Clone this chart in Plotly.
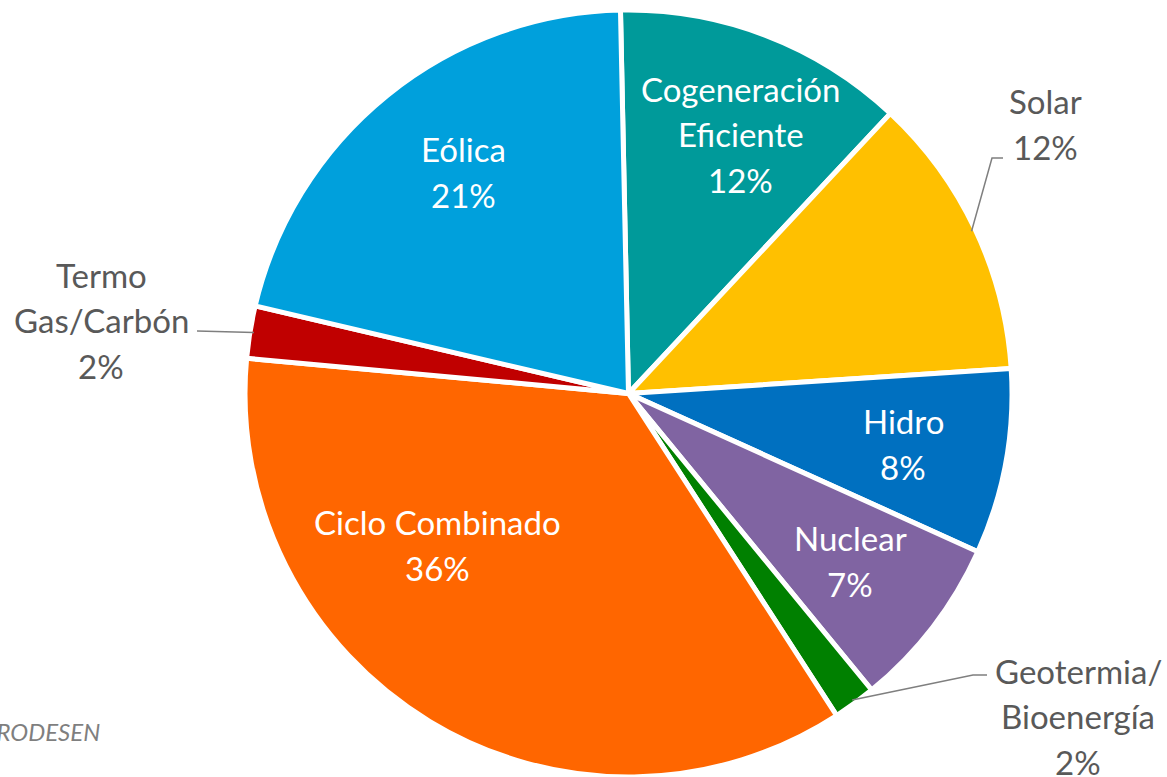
import math
import plotly.graph_objects as go

# ---------------- data ----------------
categories = ["Cogeneración Eficiente", "Solar", "Hidro", "Nuclear",
              "Geotermia/Bioenergía", "Ciclo Combinado", "Termo Gas/Carbón", "Eólica"]
label_lines = [["Cogeneración", "Eficiente"], ["Solar"], ["Hidro"], ["Nuclear"],
               ["Geotermia/", "Bioenergía"], ["Ciclo Combinado"], ["Termo", "Gas/Carbón"], ["Eólica"]]
shares = [12.3, 12.0, 7.8, 7.3, 1.8, 35.6, 2.2, 21.0]
source_note = "PRODESEN"

# ---------------- style / layout ----------------
colors = ["#009A9A", "#FFC000", "#0070C0", "#8064A2",
          "#008000", "#FF6600", "#C00000", "#00A0DC"]
W, H = 1167, 777
MT, MB = 10, 0
PH = H - MT - MB
R = PH / 2.0
CX = 628.5
CY = MT + R
ROTATION = -1.2
FONT = "Lato, 'Open Sans', sans-serif"
FS = 33
LINE_H = 45.5

# label placement (pixels): centre of the text block; outside labels also get leader elbow points
label_pos = {
    "Cogeneración Eficiente": dict(inside=True, xy=(741, 134)),
    "Solar": dict(inside=False, xy=(1045, 124), leader=[(992, 158), (1003, 158)]),
    "Hidro": dict(inside=True, xy=(903, 444)),
    "Nuclear": dict(inside=True, xy=(850, 561)),
    "Geotermia/Bioenergía": dict(inside=False, xy=(1078, 716), leader=[(973, 675), (987, 675)]),
    "Ciclo Combinado": dict(inside=True, xy=(437, 545)),
    "Termo Gas/Carbón": dict(inside=False, xy=(101, 320), leader=[(197, 331)]),
    "Eólica": dict(inside=True, xy=(463, 172)),
}


def to_paper(px, py):
    return px / W, (H - MB - py) / PH


fig = go.Figure(go.Pie(
    labels=categories,
    values=shares,
    sort=False,
    direction="clockwise",
    rotation=ROTATION,
    marker=dict(colors=colors, line=dict(color="white", width=5)),
    textinfo="none",
    hoverinfo="label+percent",
    domain=dict(x=[(CX - R) / W, (CX + R) / W], y=[0, 1]),
    showlegend=False,
))

annotations = []
shapes = []
total = sum(shares)
cum = 0.0
for cat, lines, v in zip(categories, label_lines, shares):
    mid = ROTATION + 360.0 * (cum + v / 2.0) / total
    cum += v
    cfg = label_pos[cat]
    px, py = cfg["xy"]
    all_lines = lines + [f"{round(v)}%"]
    n = len(all_lines)
    for i, ln in enumerate(all_lines):
        ly = py + (i - (n - 1) / 2.0) * LINE_H
        x, y = to_paper(px, ly)
        annotations.append(dict(
            x=x, y=y, xref="paper", yref="paper", text=ln, showarrow=False,
            xanchor="center", yanchor="middle", align="center",
            font=dict(family=FONT, size=FS, color="white" if cfg["inside"] else "#595959"),
        ))
    if not cfg["inside"]:
        a = math.radians(mid)
        rr = R - 4
        sx = CX + rr * math.sin(a)
        sy = CY - rr * math.cos(a)
        pts = [(sx, sy)] + cfg["leader"]
        path = "M " + " L ".join(
            f"{to_paper(p[0], p[1])[0]:.5f},{to_paper(p[0], p[1])[1]:.5f}" for p in pts)
        shapes.append(dict(type="path", path=path, xref="paper", yref="paper",
                           line=dict(color="#7F7F7F", width=1.5)))

annotations.append(dict(
    x=102 / W, y=to_paper(0, 731)[1], xref="paper", yref="paper",
    text=f"<i>{source_note}</i>", showarrow=False, xanchor="right", yanchor="middle",
    font=dict(family=FONT, size=24, color="#7F7F7F"),
))

fig.update_layout(
    width=W, height=H,
    margin=dict(l=0, r=0, t=MT, b=MB),
    paper_bgcolor="white", plot_bgcolor="white",
    annotations=annotations, shapes=shapes,
)

fig.write_html("out.html", config={"displayModeBar": False},
               post_script="document.body.style.margin='0';document.body.style.overflow='hidden';")
